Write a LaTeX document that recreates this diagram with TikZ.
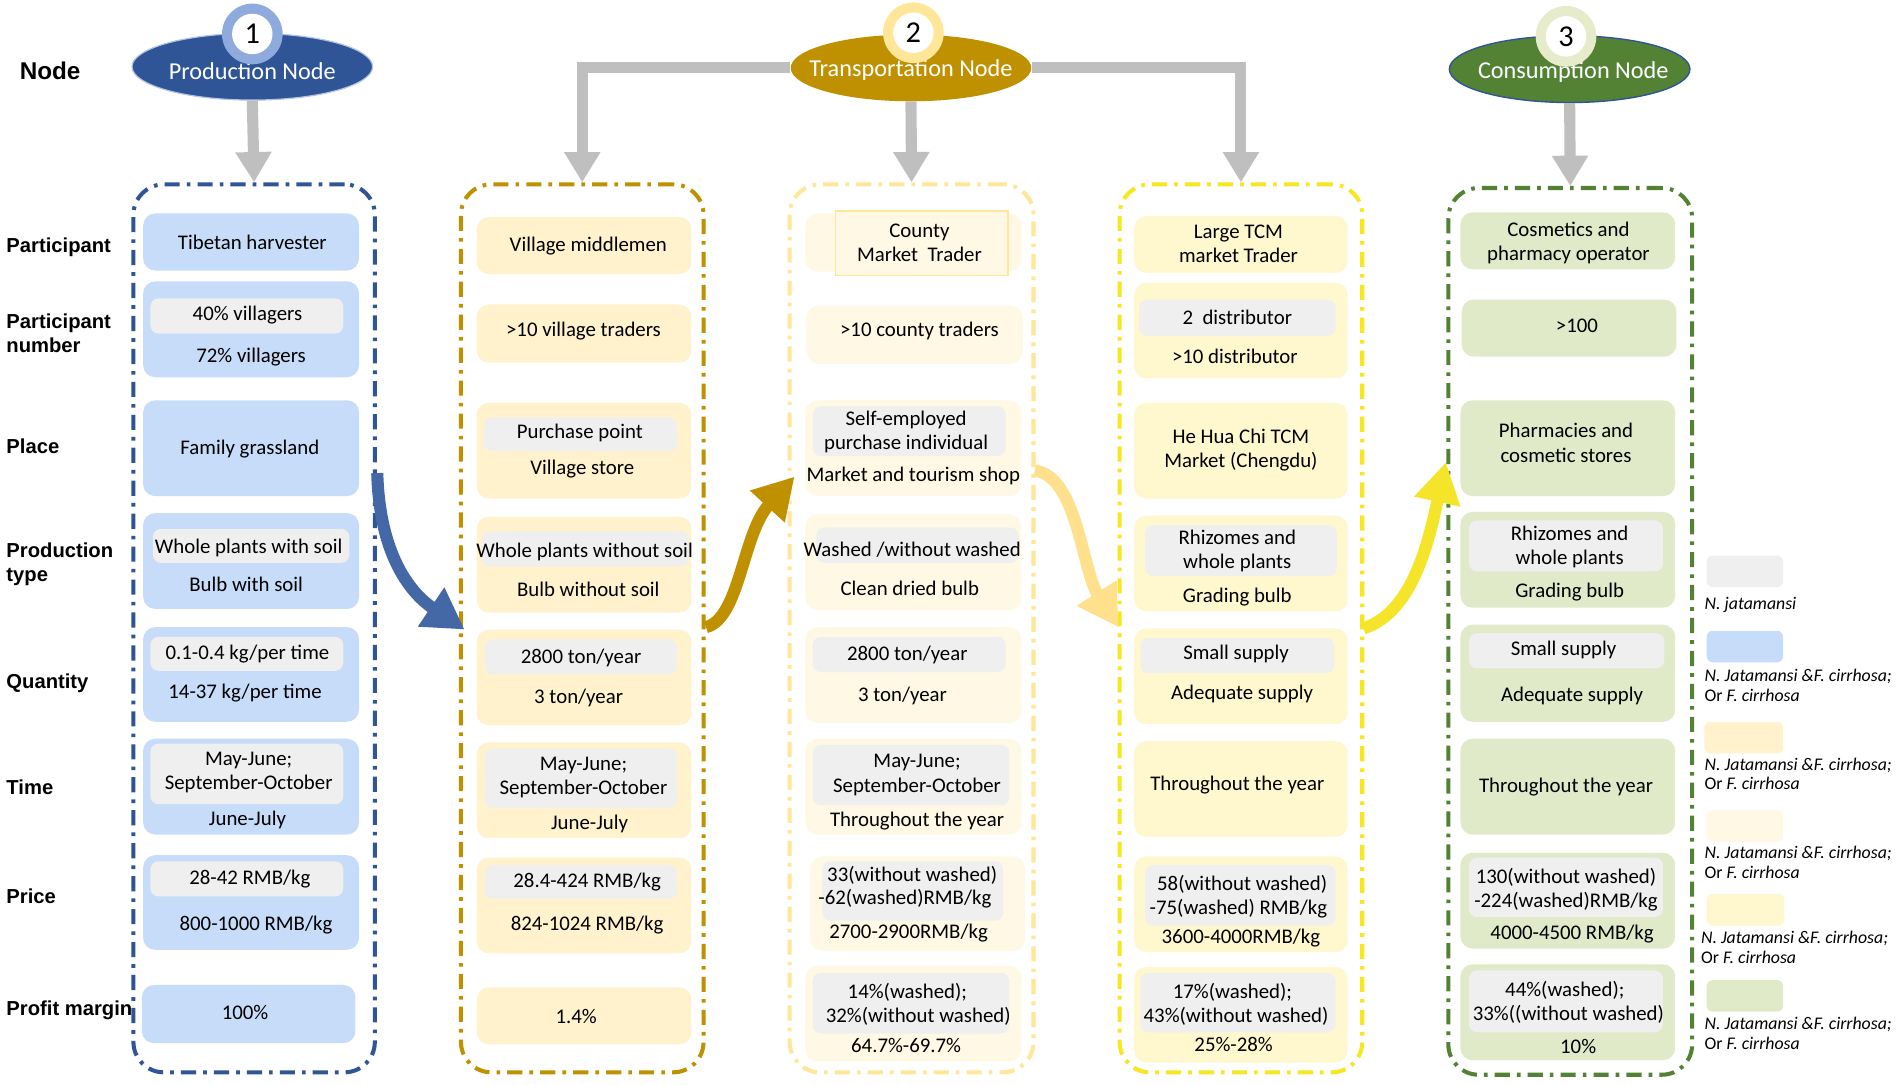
\documentclass[tikz,border=0pt]{standalone}
\usepackage{fontspec}
\setmainfont{Carlito}
\newfontfamily\labfont{Liberation Sans}
\usetikzlibrary{arrows.meta,fit,shapes.geometric}
\definecolor{pblue}{HTML}{2F5597}
\definecolor{pring}{HTML}{8FAADC}
\definecolor{gold}{HTML}{BF9000}
\definecolor{lgold}{HTML}{FFE699}
\definecolor{yel}{HTML}{F8E620}
\definecolor{grn}{HTML}{548235}
\definecolor{gring}{HTML}{E6EBCB}
\definecolor{fblue}{HTML}{C6DCF8}
\definecolor{fgold}{HTML}{FFF2CC}
\definecolor{fcream}{HTML}{FFF8E4}
\definecolor{fyel}{HTML}{FFF8CE}
\definecolor{fgrn}{HTML}{E0E9C8}
\definecolor{fgrey}{HTML}{EFEFEF}
\definecolor{arrgrey}{HTML}{BFBFBF}
\definecolor{barrow}{HTML}{4468A6}
\definecolor{lgarrow}{HTML}{FFE08C}
\definecolor{yarrow}{HTML}{F5E52A}
\newcommand\cellbox[4]{\node[ib=#2, fit={(#3)(#4)}] (#1) {};}
\newcommand\greybox[3]{\node[gb, fit={(#2)(#3)}] (#1) {};}
\newcommand\txt[3]{\node[tx] (#1) at (#2) {#3};}
\begin{document}
\begin{tikzpicture}[x=0.6pt,y=-0.6pt,
 colbox/.style={draw=#1, line width=2pt, rounded corners=15pt, dash pattern=on 7.5pt off 3.5pt on 1.8pt off 3.5pt, inner sep=0pt},
 ib/.style={fill=#1, rounded corners=6pt, inner sep=0pt},
 gb/.style={fill=fgrey, rounded corners=4pt, inner sep=0pt},
 tx/.style={font=\fontsize{10.3}{12}\selectfont, inner sep=0pt, align=center},
 rl/.style={font=\labfont\bfseries\fontsize{10}{12}\selectfont, anchor=west, inner sep=0pt, align=left},
 lt/.style={font=\fontsize{8.8}{9.6}\selectfont, anchor=west, inner sep=0pt, align=left},
 sw/.style={fill=#1, rounded corners=3pt, inner sep=0pt},
 garr/.style={draw=arrgrey, line width=5.5pt, -{Triangle[length=15pt,width=17pt]}},
 carr/.style={draw=#1, line width=6pt, -{Triangle[length=20pt,width=22pt]}},
 nodeell/.style={ellipse, fill=#1, minimum width=119pt, minimum height=33pt, inner sep=0pt},
 ring/.style={circle, fill=#1, minimum size=30pt, inner sep=0pt},
 badge/.style={circle, fill=white, minimum size=20pt, inner sep=0pt, font=\fontsize{15}{15}\selectfont},
 ntext/.style={text=white, font=\fontsize{12}{14}\selectfont, inner sep=0pt}
]
\fill[white] (0,0) rectangle (1568,894);
\useasboundingbox (0,0) rectangle (1568,894);

% row labels
\node[rl, font=\labfont\bfseries\fontsize{12}{14}\selectfont] (lnode) at (16,58) {Node};
\node[rl] (lpart) at (5,204) {Participant};
\node[rl] (lnum) at (5,275) {Participant\\number};
\node[rl] (lplace) at (5,368) {Place};
\node[rl] (ltype) at (5,465) {Production\\type};
\node[rl] (lqty) at (5,563) {Quantity};
\node[rl] (ltime) at (5,649) {Time};
\node[rl] (lprice) at (5,739) {Price};
\node[rl] (lprofit) at (5,833) {Profit margin};

% column frames
\node[colbox=pblue, fit={(110,152)(309,884)}] (col1) {};
\node[colbox=gold, fit={(380,152)(580,884)}] (col2) {};
\node[colbox=lgold, fit={(651,152)(852,884)}] (col3) {};
\node[colbox=yel, fit={(923,152)(1123,884)}] (col4) {};
\node[colbox=grn, fit={(1194,155)(1395,886)}] (col5) {};

% column 1
\cellbox{a1}{fblue}{118,176}{296,223}
\txt{a1t}{208,200}{Tibetan harvester}
\cellbox{a2}{fblue}{118,232}{296,311}
\greybox{a2g}{124,246}{283,275}
\txt{a2t}{204,260}{40\% villagers}
\txt{a2u}{207,294}{72\% villagers}
\cellbox{a3}{fblue}{118,330}{296,409}
\txt{a3t}{206,370}{Family grassland}
\cellbox{a4}{fblue}{118,423}{296,502}
\greybox{a4g}{126,436}{288,464}
\txt{a4t}{205,452}{Whole plants with soil}
\txt{a4u}{203,482}{Bulb with soil}
\cellbox{a5}{fblue}{118,517}{296,595}
\greybox{a5g}{124,525}{283,553}
\txt{a5t}{204,539}{0.1-0.4 kg/per time}
\txt{a5u}{202,571}{14-37 kg/per time}
\cellbox{a6}{fblue}{118,609}{296,688}
\greybox{a6g}{124,613}{283,663}
\txt{a6t}{205,637}{May-June;\\September-October}
\txt{a6u}{204,676}{June-July}
\cellbox{a7}{fblue}{118,705}{296,783}
\greybox{a7g}{124,710}{283,739}
\txt{a7t}{206,725}{28-42 RMB/kg}
\txt{a7u}{211,763}{800-1000 RMB/kg}
\cellbox{a8}{fblue}{117,812}{293,860}
\txt{a8t}{202,835}{100\%}

% column 2
\cellbox{b1}{fgold}{393,179}{570,226}
\txt{b1t}{485,203}{Village middlemen}
\cellbox{b2}{fgold}{393,251}{570,299}
\txt{b2t}{481,273}{>10 village traders}
\cellbox{b3}{fgold}{393,332}{570,411}
\greybox{b3g}{399,344}{558,372}
\txt{b3t}{478,357}{Purchase point}
\txt{b3u}{480,387}{Village store}
\cellbox{b4}{fgold}{393,426}{570,505}
\greybox{b4g}{397,438}{568,467}
\txt{b4t}{482,455}{Whole plants without soil}
\txt{b4u}{485,486}{Bulb without soil}
\cellbox{b5}{fgold}{393,519}{570,598}
\greybox{b5g}{400,527}{558,556}
\txt{b5t}{479,542}{2800 ton/year}
\txt{b5u}{477,575}{3 ton/year}
\cellbox{b6}{fgold}{393,612}{570,691}
\greybox{b6g}{400,617}{558,666}
\txt{b6t}{481,641}{May-June;\\September-October}
\txt{b6u}{486,679}{June-July}
\cellbox{b7}{fgold}{393,707}{570,786}
\greybox{b7g}{400,713}{558,741}
\txt{b7t}{484,727}{28.4-424 RMB/kg}
\txt{b7u}{484,763}{824-1024 RMB/kg}
\cellbox{b8}{fgold}{393,814}{570,861}
\txt{b8t}{475,838}{1.4\%}

% column 3
\cellbox{c1}{fcream}{664,176}{842,224}
\node[draw=lgold, line width=0.7pt, fill=fcream, inner sep=0pt, fit={(689,174)(831,227)}] (c1r) {};
\txt{c1t}{758,200}{County\\Market\ \ Trader}
\cellbox{c2}{fcream}{665,252}{843,300}
\txt{c2t}{758,273}{>10 county traders}
\cellbox{c3}{fcream}{664,330}{842,409}
\greybox{c3g}{670,335}{829,376}
\txt{c3t}{747,356}{Self-employed\\purchase individual}
\txt{c3u}{753,392}{Market and tourism shop}
\cellbox{c4}{fcream}{664,424}{842,503}
\greybox{c4g}{673,435}{840,464}
\txt{c4t}{752,453}{Washed /without washed}
\txt{c4u}{750,485}{Clean dried bulb}
\cellbox{c5}{fcream}{664,517}{842,596}
\greybox{c5g}{670,525}{829,554}
\txt{c5t}{748,540}{2800 ton/year}
\txt{c5u}{744,574}{3 ton/year}
\cellbox{c6}{fcream}{664,609}{842,688}
\greybox{c6g}{670,614}{832,664}
\txt{c6t}{756,639}{May-June;\\September-October}
\txt{c6u}{756,677}{Throughout the year}
\cellbox{c7}{fcream}{668,706}{845,784}
\greybox{c7g}{678,710}{827,759}
\txt{c7t}{752,722}{33(without washed)}
\txt{c7u}{746,741}{-62(washed)RMB/kg}
\txt{c7v}{749,769}{2700-2900RMB/kg}
\cellbox{c8}{fcream}{664,796}{842,875}
\greybox{c8g}{670,802}{832,852}
\txt{c8t}{748,818}{14\%(washed);}
\txt{c8u}{757,838}{32\%(without washed)}
\txt{c8v}{747,862}{64.7\%-69.7\%}

% column 4
\cellbox{d1}{fyel}{935,178}{1111,225}
\txt{d1t}{1021,201}{Large TCM\\market Trader}
\cellbox{d2}{fyel}{935,233}{1111,312}
\greybox{d2g}{939,247}{1101,277}
\txt{d2t}{1020,262}{2\ \ distributor}
\txt{d2u}{1018,294}{>10 distributor}
\cellbox{d3}{fyel}{935,332}{1111,411}
\txt{d3t}{1023,371}{He Hua Chi TCM\\Market (Chengdu)}
\cellbox{d4}{fyel}{935,425}{1111,504}
\greybox{d4g}{944,433}{1102,475}
\txt{d4t}{1020,454}{Rhizomes and\\whole plants}
\txt{d4u}{1020,492}{Grading bulb}
\cellbox{d5}{fyel}{935,518}{1111,597}
\greybox{d5g}{940,526}{1100,555}
\txt{d5t}{1019,539}{Small supply}
\txt{d5u}{1024,572}{Adequate supply}
\cellbox{d6}{fyel}{935,611}{1111,690}
\txt{d6t}{1020,647}{Throughout the year}
\cellbox{d7}{fyel}{935,706}{1111,785}
\greybox{d7g}{944,713}{1101,763}
\txt{d7t}{1024,729}{58(without washed)}
\txt{d7u}{1021,749}{-75(washed) RMB/kg}
\txt{d7v}{1023,773}{3600-4000RMB/kg}
\cellbox{d8}{fyel}{935,797}{1111,876}
\greybox{d8g}{940,802}{1101,851}
\txt{d8t}{1016,818}{17\%(washed);}
\txt{d8u}{1019,838}{43\%(without washed)}
\txt{d8v}{1017,861}{25\%-28\%}

% column 5
\cellbox{e1}{fgrn}{1204,175}{1381,222}
\txt{e1t}{1293,200}{Cosmetics and\\pharmacy operator}
\cellbox{e2}{fgrn}{1205,247}{1382,294}
\txt{e2t}{1300,269}{>100}
\cellbox{e3}{fgrn}{1204,330}{1381,409}
\txt{e3t}{1291,365}{Pharmacies and\\cosmetic stores}
\cellbox{e4}{fgrn}{1204,422}{1381,501}
\greybox{e4g}{1211,429}{1371,471}
\txt{e4t}{1294,451}{Rhizomes and\\whole plants}
\txt{e4u}{1294,488}{Grading bulb}
\cellbox{e5}{fgrn}{1204,515}{1381,595}
\greybox{e5g}{1211,522}{1372,551}
\txt{e5t}{1289,536}{Small supply}
\txt{e5u}{1296,574}{Adequate supply}
\cellbox{e6}{fgrn}{1204,609}{1381,688}
\txt{e6t}{1291,649}{Throughout the year}
\cellbox{e7}{fgrn}{1204,703}{1381,782}
\greybox{e7g}{1211,707}{1371,756}
\txt{e7t}{1291,723}{130(without washed)}
\txt{e7u}{1291,743}{-224(washed)RMB/kg}
\txt{e7v}{1296,770}{4000-4500 RMB/kg}
\cellbox{e8}{fgrn}{1204,795}{1381,874}
\greybox{e8g}{1211,800}{1371,851}
\txt{e8t}{1290,816}{44\%(washed);}
\txt{e8u}{1293,836}{33\%((without washed)}
\txt{e8v}{1301,863}{10\%}

% node ellipses
\node[nodeell=pblue, draw=pring!70, line width=0.6pt] (pn) at (208,55) {};
\node[ntext] (pnt) at (208,59) {Production Node};
\node[ring=pring] (pr) at (208,28) {};
\node[badge] (pb) at (208,28) {1};
\node[nodeell=gold] (tn) at (751,56) {};
\node[ntext] (tnt) at (751,58) {Transportation Node};
\node[ring=lgold] (tr) at (753,27) {};
\node[badge] (tb) at (753,27) {2};
\node[nodeell=grn, draw=pblue, line width=0.7pt] (cn) at (1294,57) {};
\node[ntext] (cnt) at (1297,59) {Consumption Node};
\node[ring=gring] (cr) at (1291,30) {};
\node[badge] (cb) at (1291,30) {3};

% grey arrows
\draw[garr] (pn.south) -- (col1.north);
\draw[garr] (tn.west) -| (col2.north);
\draw[garr] (tn.south) -- (col3.north);
\draw[garr] (tn.east) -| (col4.north);
\draw[garr] (cn.south) -- (col5.north);

% curved flow arrows
\coordinate (f1s) at (311,390);
\coordinate (f1e) at (383,519);
\draw[carr=barrow] (f1s) .. controls (313,460) and (340,490) .. (f1e);
\coordinate (f2s) at (582,517);
\coordinate (f2e) at (655,393);
\draw[carr=gold] (f2s) .. controls (610,510) and (612,440) .. (f2e);
\coordinate (f3s) at (853,388);
\coordinate (f3e) at (922,517);
\draw[carr=lgarrow] (f3s) .. controls (888,392) and (892,470) .. (f3e);
\coordinate (f4s) at (1124,518);
\coordinate (f4e) at (1192,381);
\draw[carr=yarrow] (f4s) .. controls (1165,505) and (1178,445) .. (f4e);

% legend
\node[sw=fgrey, fit={(1407,458)(1470,484)}] (g1) {};
\node[lt] (g1t) at (1405,499) {\textit{N. jatamansi}};
\node[sw=fblue, fit={(1407,520)(1470,546)}] (g2) {};
\node[lt] (g2t) at (1405,565) {\textit{N. Jatamansi \&F. cirrhosa;}\\Or \textit{F. cirrhosa}};
\node[sw=fgold, fit={(1405,595)(1470,621)}] (g3) {};
\node[lt] (g3t) at (1405,638) {\textit{N. Jatamansi \&F. cirrhosa;}\\Or \textit{F. cirrhosa}};
\node[sw=fcream, fit={(1407,668)(1470,694)}] (g4) {};
\node[lt] (g4t) at (1405,711) {\textit{N. Jatamansi \&F. cirrhosa;}\\Or \textit{F. cirrhosa}};
\node[sw=fyel, fit={(1407,737)(1471,763)}] (g5) {};
\node[lt] (g5t) at (1402,781) {\textit{N. Jatamansi \&F. cirrhosa;}\\Or \textit{F. cirrhosa}};
\node[sw=fgrn, fit={(1407,808)(1470,834)}] (g6) {};
\node[lt] (g6t) at (1405,852) {\textit{N. Jatamansi \&F. cirrhosa;}\\Or \textit{F. cirrhosa}};
\end{tikzpicture}
\end{document}
